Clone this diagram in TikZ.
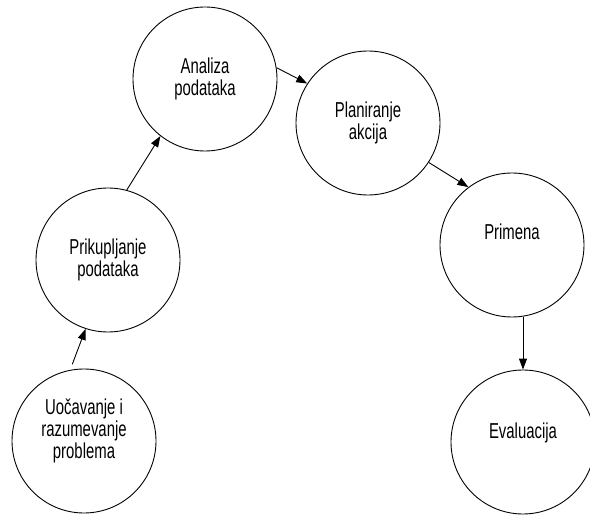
\documentclass[tikz,border=0pt]{standalone}
\usepackage{fontspec}
\usetikzlibrary{arrows.meta}
\newfontfamily\stagefont{Liberation Sans}[FakeStretch=0.69]

\begin{document}
\begin{tikzpicture}[
    x=1pt, y=-1pt,
    stage/.style={circle, draw, line width=0.9pt, minimum size=144pt,
                  inner sep=0pt, align=center,
                  font=\stagefont\fontsize{21.6}{22.3}\selectfont},
    arrow/.style={-{Triangle[length=11pt, width=8pt]}, line width=0.9pt}
]
\useasboundingbox (0,0) rectangle (590,516);

% Stages
\node[stage, text depth=25pt] (uoc) at (84,441)
    {Uočavanje i\\razumevanje\\problema};
\node[stage] (prik) at (108,260) {Prikupljanje\\podataka};
\node[stage] (anal) at (205,79) {Analiza\\podataka};
\node[stage] (plan) at (368,123) {Planiranje\\akcija};
\node[stage, text depth=27pt] (prim) at (512,245) {Primena};
\node[stage, text depth=23pt] (eval) at (523,442) {Evaluacija};

% Arrows
\draw[arrow, shorten <=6pt] (uoc.101) -- (prik.252);
\draw[arrow] (prik.75) -- (anal.232);
\draw[arrow] (anal.9) -- (plan.147);
\draw[arrow] (plan.-33) -- (prim.127);
\draw[arrow] (prim.south -| eval.north) -- (eval.north);

\end{tikzpicture}
\end{document}
